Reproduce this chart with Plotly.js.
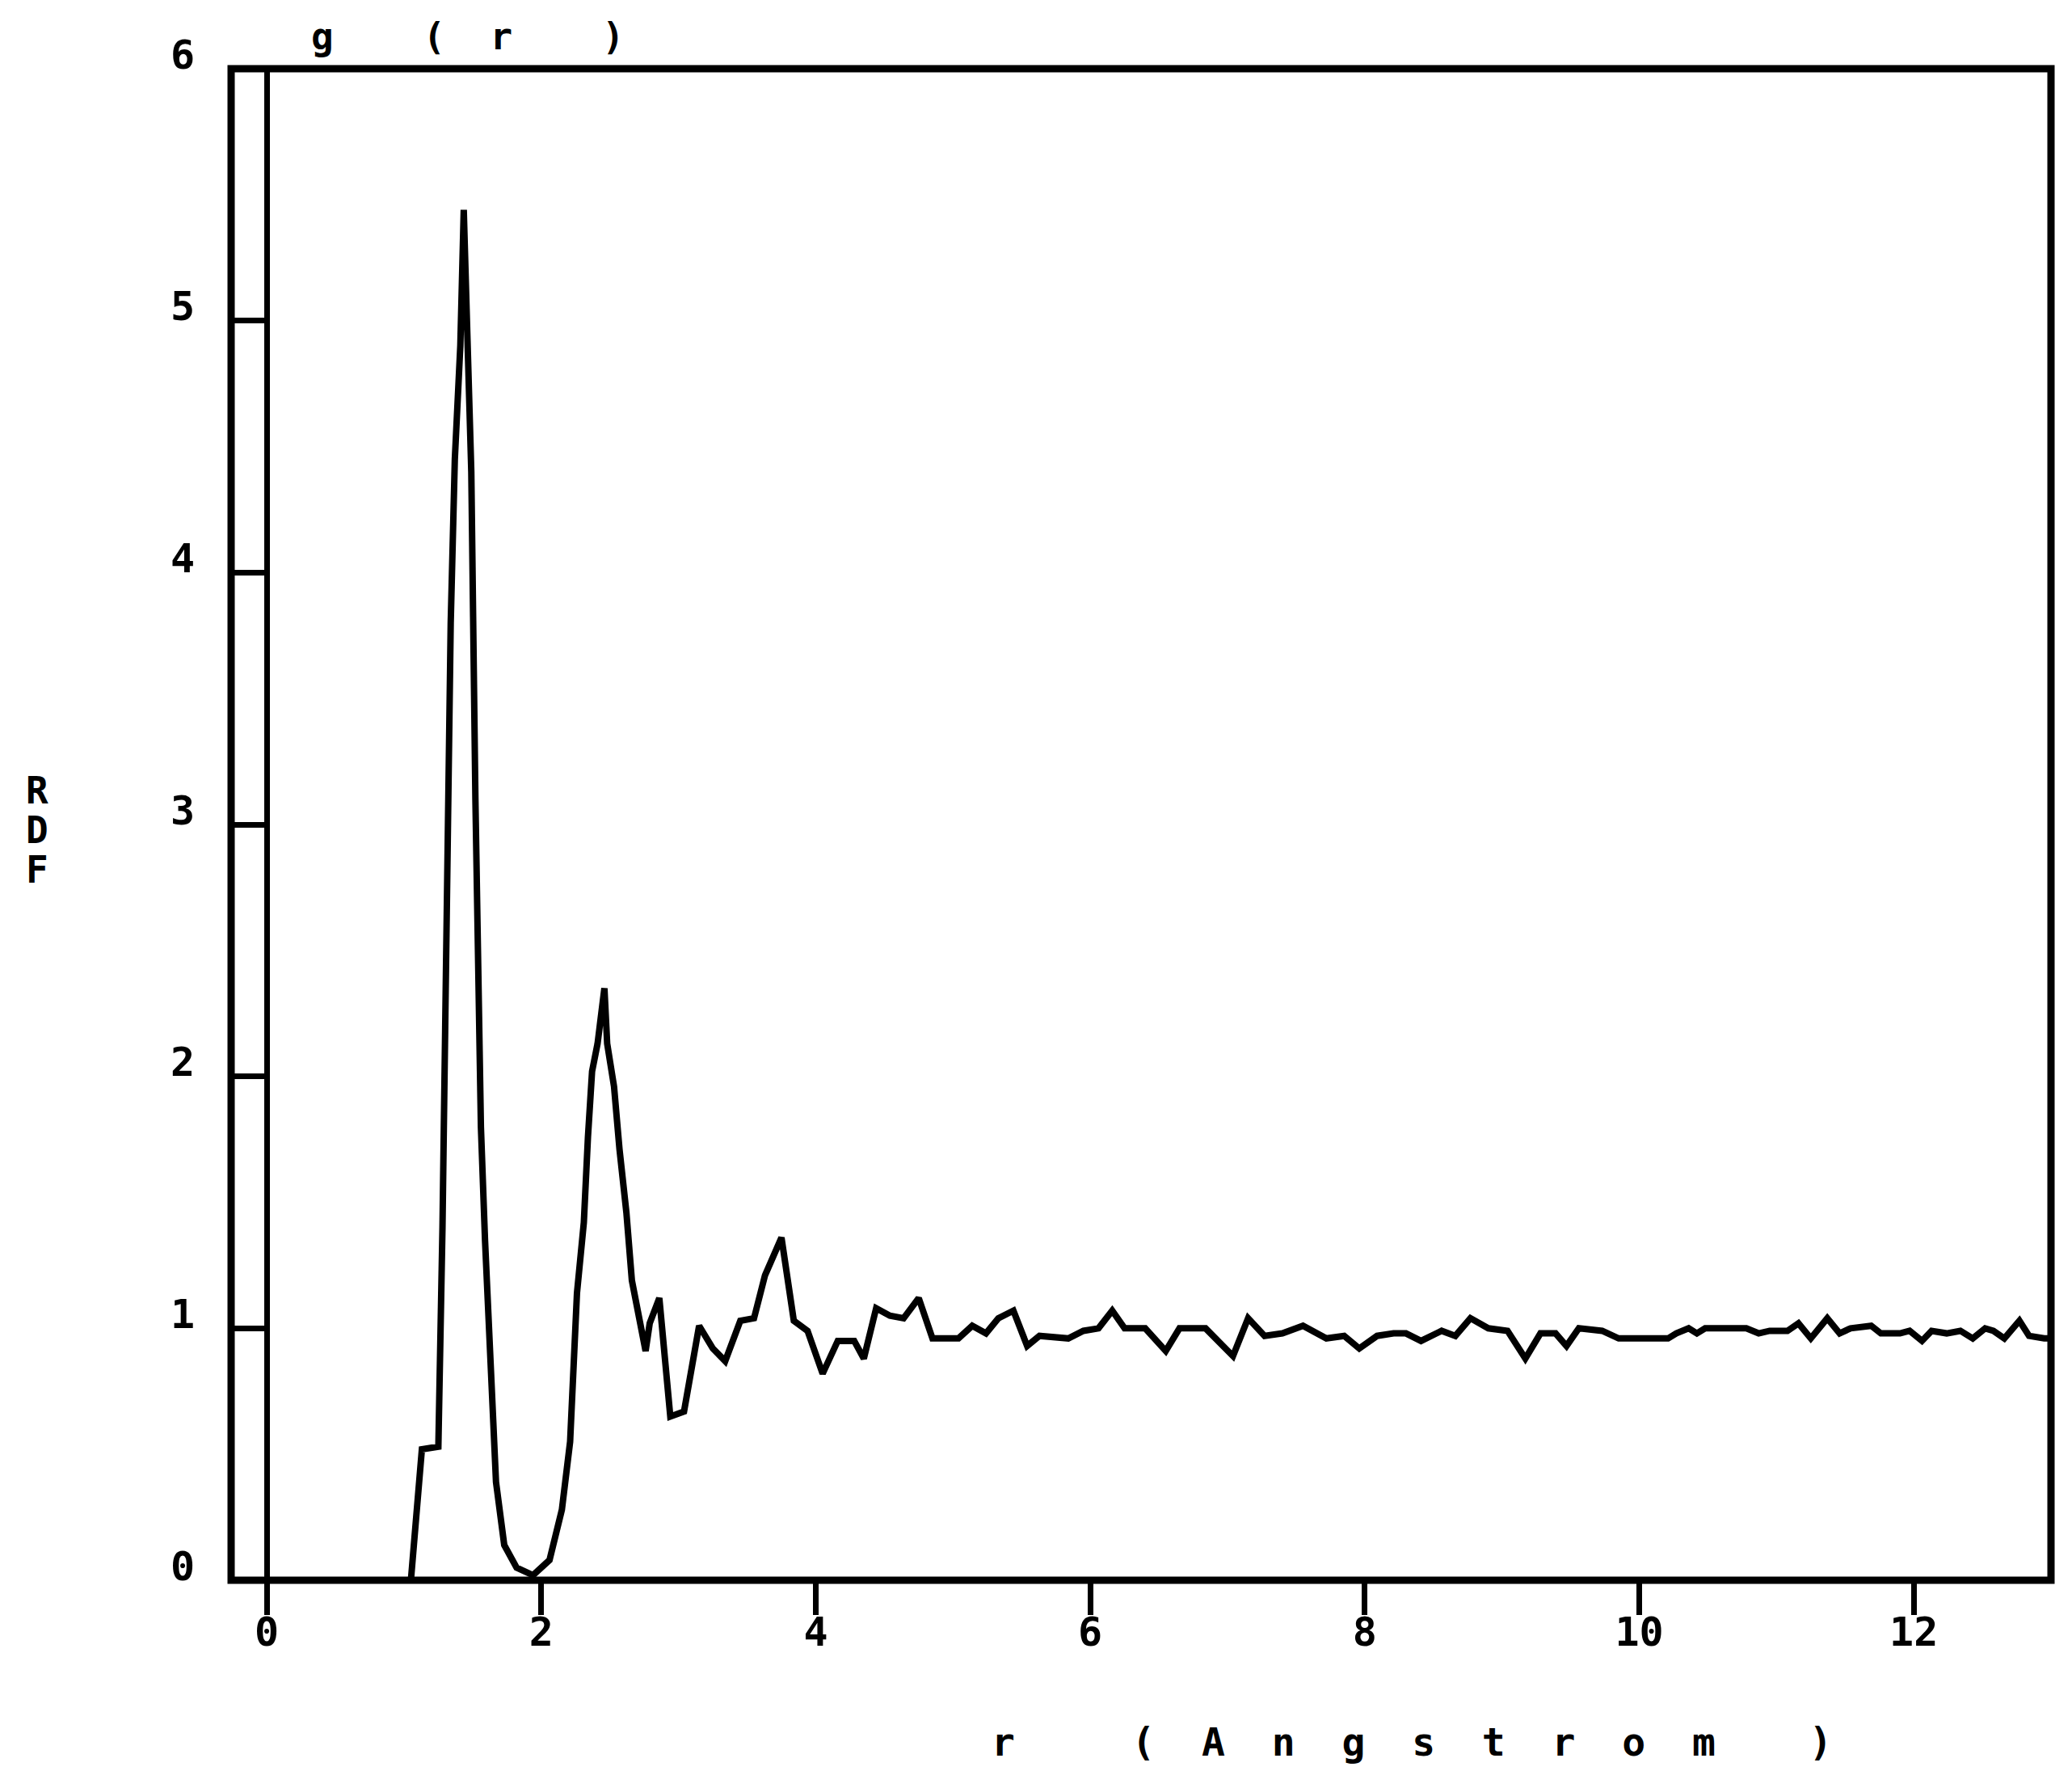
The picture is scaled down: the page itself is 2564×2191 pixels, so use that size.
<!DOCTYPE html>
<html>
<head>
<meta charset="utf-8">
<script src="https://cdn.plot.ly/plotly-3.0.1.min.js"></script>
<style>html,body{margin:0;padding:0;background:#fff;}</style>
</head>
<body>
<div id="chart" style="width:2564px;height:2191px;"></div>
<script>
// Radial distribution function g(r)
const rValues = [0, 1.05, 1.13, 1.25, 1.28, 1.31, 1.34, 1.37, 1.41, 1.435, 1.465, 1.49, 1.52, 1.56, 1.59, 1.63, 1.67, 1.73, 1.82, 1.94,
  2.06, 2.15, 2.21, 2.26, 2.31, 2.34, 2.37, 2.41, 2.46, 2.48, 2.53, 2.57, 2.62, 2.66, 2.73, 2.76, 2.79, 2.86, 2.94,
  3.04, 3.15, 3.25, 3.34, 3.45, 3.55, 3.63, 3.75, 3.84, 3.94, 4.05, 4.16, 4.28, 4.35, 4.44, 4.54, 4.64, 4.75, 4.85,
  5.04, 5.14, 5.24, 5.33, 5.44, 5.54, 5.63, 5.84, 5.95, 6.06, 6.16, 6.25, 6.40, 6.55, 6.65, 6.84, 7.04, 7.15, 7.27,
  7.40, 7.55, 7.72, 7.85, 7.96, 8.09, 8.21, 8.30, 8.41, 8.56, 8.66, 8.77, 8.90, 9.04, 9.17, 9.28, 9.39, 9.47, 9.56,
  9.73, 9.85, 10.21, 10.27, 10.36, 10.42, 10.48, 10.78, 10.87, 10.95, 11.08, 11.16, 11.25, 11.29, 11.37, 11.46,
  11.54, 11.69, 11.76, 11.90, 11.97, 12.06, 12.13, 12.24, 12.34, 12.43, 12.52, 12.58, 12.66, 12.77, 12.84, 12.95, 13.0];
const gValues = [0, 0, 0.52, 0.53, 1.4, 2.6, 3.8, 4.45, 4.9, 5.44, 4.9, 4.4, 3.1, 1.8, 1.35, 0.82, 0.39, 0.14, 0.05, 0.02,
  0.08, 0.28, 0.55, 1.14, 1.42, 1.76, 2.02, 2.13, 2.35, 2.13, 1.96, 1.71, 1.46, 1.19, 1.0, 0.91, 1.02, 1.12, 0.65,
  0.67, 1.01, 0.92, 0.87, 1.03, 1.04, 1.21, 1.36, 1.03, 0.99, 0.82, 0.95, 0.95, 0.88, 1.08, 1.05, 1.04, 1.12, 0.96,
  0.96, 1.01, 0.98, 1.04, 1.07, 0.93, 0.97, 0.96, 0.99, 1.0, 1.07, 1.0, 1.0, 0.91, 1.0, 1.0, 0.89, 1.04, 0.97,
  0.98, 1.01, 0.96, 0.97, 0.92, 0.97, 0.98, 0.98, 0.95, 0.99, 0.97, 1.04, 1.0, 0.99, 0.88, 0.98, 0.98, 0.93, 1.0,
  0.99, 0.96, 0.96, 0.98, 1.0, 0.98, 1.0, 1.0, 0.98, 0.99, 0.99, 1.02, 0.96, 0.99, 1.04, 0.98,
  1.0, 1.01, 0.98, 0.98, 0.99, 0.95, 0.99, 0.98, 0.99, 0.96, 1.0, 0.99, 0.96, 1.03, 0.97, 0.96, 0.96];
const xTicks = [0, 2, 4, 6, 8, 10, 12];
const yTicks = [0, 1, 2, 3, 4, 5, 6];
const yLabelLetters = ['R', 'D', 'F'];

const NB = '\u00a0';
const sp = n => NB.repeat(n);
const titleText = 'g' + sp(4) + '(' + sp(2) + 'r' + sp(4) + ')';
const xLabelText = 'r' + sp(5) + '(' + sp(2) + ['A','n','g','s','t','r','o','m'].join(sp(2)) + sp(4) + ')';

const mono = 'DejaVu Sans Mono, Liberation Mono, monospace';

const trace = {
  x: rValues, y: gValues, type: 'scatter', mode: 'lines',
  line: {color: '#000', width: 8, shape: 'linear'},
  hoverinfo: 'skip'
};

// plot-area pixel geometry (for placing the stacked RDF letters)
const plotH = 2191 - 85 - 236;
const letterYpx = [978, 1027, 1076];
const rdfAnnotations = yLabelLetters.map((ch, i) => ({
  text: ch, xref: 'paper', x: (46 - 286) / (2564 - 286 - 26), xanchor: 'center',
  yref: 'paper', y: (1955 - letterYpx[i]) / plotH, yanchor: 'middle',
  showarrow: false, font: {family: mono, size: 46, weight: 'bold', color: '#000'}
}));

const layout = {
  width: 2564, height: 2191,
  margin: {l: 286, r: 26, t: 85, b: 236, pad: 0},
  paper_bgcolor: '#fff', plot_bgcolor: '#fff',
  showlegend: false,
  font: {family: mono, color: '#000'},
  xaxis: {
    range: [-0.26, 13], tickvals: xTicks, ticktext: xTicks.map(String),
    ticks: 'outside', ticklen: 42, tickwidth: 7, tickcolor: '#000',
    showgrid: false, showline: false,
    zeroline: true, zerolinecolor: '#000', zerolinewidth: 7,
    ticklabelstandoff: -22,
    tickfont: {family: mono, size: 50, weight: 'bold', color: '#000'},
    fixedrange: true
  },
  yaxis: {
    range: [0, 6], tickvals: yTicks, ticktext: yTicks.map(String),
    ticks: 'inside', ticklen: 44, tickwidth: 7, tickcolor: '#000',
    showgrid: false, showline: false, zeroline: false,
    ticklabelstandoff: 44, ticklabelshift: -18,
    tickfont: {family: mono, size: 50, weight: 'bold', color: '#000'},
    fixedrange: true
  },
  shapes: [{
    type: 'rect', xref: 'paper', yref: 'paper', x0: 0, x1: 1, y0: 0, y1: 1,
    line: {color: '#000', width: 9}, layer: 'above'
  }],
  annotations: [
    {text: titleText, xref: 'x', x: 0.31, xanchor: 'left', yref: 'paper', y: 1.0214, yanchor: 'middle',
     showarrow: false, font: {family: mono, size: 46, weight: 'bold', color: '#000'}},
    {text: xLabelText, xref: 'x', x: 5.27, xanchor: 'left', yref: 'paper', y: -0.107, yanchor: 'middle',
     showarrow: false, font: {family: mono, size: 48, weight: 'bold', color: '#000'}}
  ].concat(rdfAnnotations)
};

Plotly.newPlot('chart', [trace], layout, {staticPlot: true, displayModeBar: false});
</script>
</body>
</html>
